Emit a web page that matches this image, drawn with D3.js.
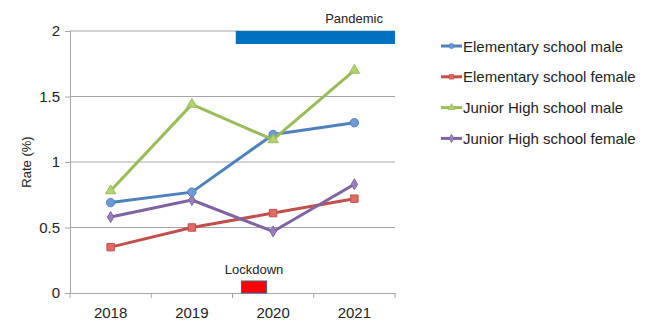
<!DOCTYPE html>
<html>
<head>
<meta charset="utf-8">
<script src="https://cdn.jsdelivr.net/npm/d3@7"></script>
<style>
  body { margin: 0; background: #fff; }
  text { font-family: "Liberation Sans", Arial, sans-serif; fill: #222; }
</style>
</head>
<body>
<svg id="chart" width="654" height="324"></svg>
<script>
var years = ["2018", "2019", "2020", "2021"];
var yTicks = [0, 0.5, 1, 1.5, 2];

var seriesNames = ["Elementary school male", "Elementary school female", "Junior High school male", "Junior High school female"];
var elemMale = [0.69, 0.77, 1.21, 1.30];
var elemFemale = [0.35, 0.50, 0.61, 0.72];
var jhMale = [0.78, 1.44, 1.17, 1.70];
var jhFemale = [0.58, 0.71, 0.47, 0.83];

// event spans, in category units (0 = left edge, 4 = right edge)
var eventLabels = ["Pandemic", "Lockdown"];
var eventFrom = [2.04, 2.11];
var eventTo = [4.0, 2.42];

var colors = ["#4F81BD", "#C0504D", "#9BBB59", "#8064A2"];
var fills = ["#6E9BD6", "#E06A66", "#B3D16F", "#9A7FC0"];
var shapes = [d3.symbolCircle, d3.symbolSquare, d3.symbolTriangle, d3.symbolDiamond];
var sizes = [55, 55, 45, 35];

var svg = d3.select("#chart");
var m = {left: 70, right: 395, top: 31, bottom: 293};

var x = d3.scaleBand().domain(years).range([m.left, m.right]);
var xs = d3.scaleLinear().domain([0, 4]).range([m.left, m.right]);
var y = d3.scaleLinear().domain([0, 2]).range([m.bottom, m.top]);

// gridlines
svg.append("g").selectAll("line")
    .data(yTicks.filter(function(d) { return d > 0; }))
    .enter().append("line")
        .attr("x1", m.left).attr("x2", m.right)
        .attr("y1", function(d) { return y(d); })
        .attr("y2", function(d) { return y(d); })
        .attr("stroke", "#A6A6A6").attr("stroke-width", 1);

// y axis
var yAxis = svg.append("g")
    .attr("transform", "translate(" + m.left + ",0)")
    .call(d3.axisLeft(y).tickValues(yTicks).tickSize(5).tickFormat(function(d) { return d; }));
yAxis.select(".domain").attr("stroke", "#A6A6A6");
yAxis.selectAll(".tick line").attr("stroke", "#A6A6A6");
yAxis.selectAll("text").attr("font-size", 15).attr("x", -10)
    .style("font-family", "Liberation Sans, Arial, sans-serif").attr("fill", "#222");

// x axis
var xAxis = svg.append("g")
    .attr("transform", "translate(0," + m.bottom + ")")
    .call(d3.axisBottom(x).tickSize(0).tickPadding(14));
xAxis.select(".domain").attr("stroke", "#A6A6A6");
xAxis.selectAll("text").attr("font-size", 15)
    .style("font-family", "Liberation Sans, Arial, sans-serif").attr("fill", "#222");
svg.append("g").selectAll("line")
    .data(d3.range(0, 5))
    .enter().append("line")
        .attr("x1", function(d) { return xs(d); })
        .attr("x2", function(d) { return xs(d); })
        .attr("y1", m.bottom).attr("y2", m.bottom + 5)
        .attr("stroke", "#A6A6A6");

// y label
svg.append("text")
    .attr("transform", "translate(31," + ((m.top + m.bottom) / 2) + ") rotate(-90)")
    .attr("text-anchor", "middle")
    .attr("font-size", 13)
    .text("Rate (%)");

// pandemic bar
svg.append("rect")
    .attr("x", xs(eventFrom[0])).attr("width", xs(eventTo[0]) - xs(eventFrom[0]))
    .attr("y", y(2)).attr("height", 13)
    .attr("fill", "#0070C0");
svg.append("text")
    .attr("x", 383).attr("y", 23)
    .attr("text-anchor", "end").attr("font-size", 13)
    .text(eventLabels[0]);

// lockdown box
svg.append("rect")
    .attr("x", xs(eventFrom[1])).attr("width", xs(eventTo[1]) - xs(eventFrom[1]))
    .attr("y", m.bottom - 12).attr("height", 12)
    .attr("fill", "#FF0000").attr("stroke", "#3F5F8F").attr("stroke-width", 1);
svg.append("text")
    .attr("x", (xs(eventFrom[1]) + xs(eventTo[1])) / 2).attr("y", 274)
    .attr("text-anchor", "middle").attr("font-size", 13)
    .text(eventLabels[1]);

var allSeries = [elemMale, elemFemale, jhMale, jhFemale];
var line = d3.line()
    .x(function(d, i) { return x(years[i]) + x.bandwidth() / 2; })
    .y(function(d) { return y(d); });

var order = [1, 3, 0, 2];
order.forEach(function(s) {
    var vals = allSeries[s];
    svg.append("path")
        .datum(vals)
        .attr("d", line)
        .attr("fill", "none")
        .attr("stroke", colors[s])
        .attr("stroke-width", 3)
        .attr("stroke-linejoin", "round");
    svg.append("g").selectAll("path")
        .data(vals)
        .enter().append("path")
            .attr("transform", function(d, i) {
                return "translate(" + (x(years[i]) + x.bandwidth() / 2) + "," + y(d) + ")";
            })
            .attr("d", d3.symbol().type(shapes[s]).size(sizes[s]))
            .attr("fill", fills[s])
            .attr("stroke", colors[s])
            .attr("stroke-width", 1);
});

// legend
var leg = svg.append("g").selectAll("g")
    .data(seriesNames)
    .enter().append("g")
        .attr("transform", function(d, i) { return "translate(441," + (46 + i * 30.8) + ")"; });
leg.append("line")
    .attr("x1", 0).attr("x2", 21)
    .attr("stroke", function(d, i) { return colors[i]; })
    .attr("stroke-width", 3);
leg.append("path")
    .attr("transform", "translate(10.5,0)")
    .attr("d", function(d, i) { return d3.symbol().type(shapes[i]).size(20)(); })
    .attr("fill", function(d, i) { return fills[i]; })
    .attr("stroke", function(d, i) { return colors[i]; })
    .attr("stroke-width", 0.8);
leg.append("text")
    .attr("x", 22).attr("y", 5.5)
    .attr("font-size", 15)
    .text(function(d) { return d; });
</script>
</body>
</html>
